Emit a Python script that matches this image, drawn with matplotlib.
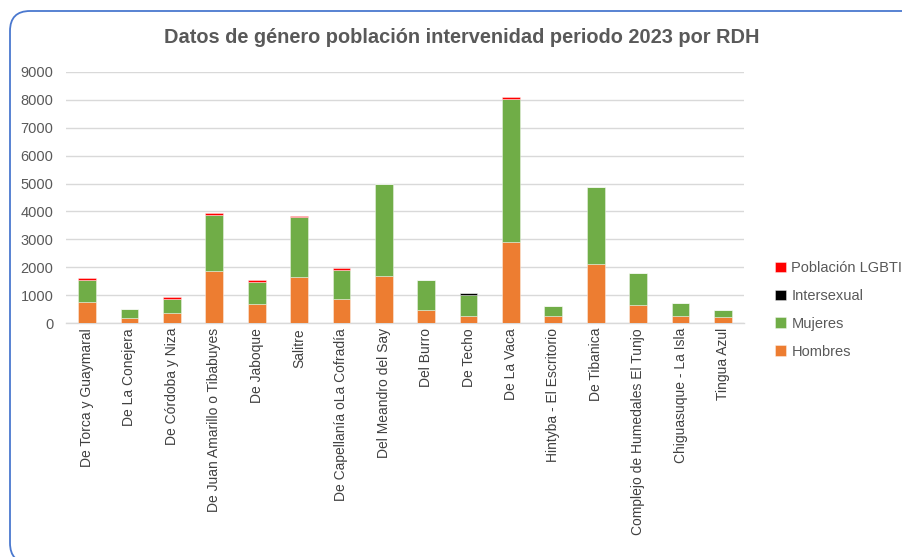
import numpy as np
import matplotlib
matplotlib.use("Agg")
import matplotlib.pyplot as plt
from matplotlib.patches import FancyBboxPatch
from matplotlib.transforms import IdentityTransform

plt.rcParams["font.family"] = ["Liberation Sans", "DejaVu Sans"]

# Data
categorias = [
    "De Torca y Guaymaral", "De La Conejera", "De Córdoba y Niza",
    "De Juan Amarillo o Tibabuyes", "De Jaboque", "Salitre",
    "De Capellanía oLa Cofradía", "Del Meandro del Say", "Del Burro",
    "De Techo", "De La Vaca", "Hintyba - El Escritorio", "De Tibanica",
    "Complejo de Humedales El Tunjo", "Chiguasuque - La Isla", "Tingua Azul",
]
hombres = [760, 180, 360, 1855, 670, 1650, 860, 1690, 480, 265, 2900, 265, 2110, 660, 265, 215]
mujeres = [800, 335, 490, 2010, 790, 2135, 1045, 3305, 1075, 730, 5135, 345, 2765, 1150, 440, 240]
intersexual = [0, 0, 0, 0, 0, 0, 0, 0, 0, 65, 0, 0, 0, 0, 0, 0]
lgbti = [45, 0, 70, 70, 70, 60, 60, 0, 0, 0, 70, 0, 0, 0, 0, 0]

series = [
    ("Hombres", hombres, "#ED7D31"),
    ("Mujeres", mujeres, "#70AD47"),
    ("Intersexual", intersexual, "#000000"),
    ("Población LGBTI", lgbti, "#FF0000"),
]

fig = plt.figure(figsize=(9.02, 5.57), dpi=100)
ax = fig.add_axes([0.073, 0.42, 0.752, 0.451])

x = np.arange(len(categorias))
bottom = np.zeros(len(categorias))
handles = []
for nombre, valores, color in series:
    valores = np.array(valores, dtype=float)
    b = ax.bar(x, valores, 0.42, bottom=bottom, color=color, label=nombre,
               edgecolor=(1, 1, 1, 0.45), linewidth=0.6, zorder=3)
    handles.append(b)
    bottom += valores

ax.set_ylim(0, 9000)
ax.set_xlim(-0.5, len(categorias) - 0.5)
ax.set_yticks(np.arange(0, 9001, 1000))
ax.yaxis.grid(True, color="#D9D9D9", linewidth=1, zorder=0)
ax.set_axisbelow(True)
for s in ["top", "right", "left"]:
    ax.spines[s].set_visible(False)
ax.spines["bottom"].set_color("#D9D9D9")
ax.spines["bottom"].set_linewidth(1)
ax.tick_params(axis="both", length=0, colors="#595959")
ax.tick_params(axis="y", pad=9, labelsize=10.5)
ax.set_xticks(x)
ax.set_xticklabels(categorias, rotation=90, color="#404040", fontsize=10)

fig.text(0.512, 0.932, "Datos de género población intervenidad periodo 2023 por RDH",
         ha="center", va="center", fontsize=14.4, fontweight="bold", color="#595959")

leg = fig.legend(handles[::-1], [s[0] for s in series][::-1],
                 loc="upper left", bbox_to_anchor=(0.845, 0.555), frameon=False,
                 fontsize=10.5, labelcolor="#595959", handlelength=0.7,
                 handleheight=0.7, handletextpad=0.4, labelspacing=0.95)

# rounded chart-area border
border = FancyBboxPatch((10, -6), 918, 552, boxstyle="round,pad=0,rounding_size=20",
                        transform=IdentityTransform(), fill=False,
                        edgecolor="#4A78CF", linewidth=1.3)
fig.patches.append(border)

fig.savefig("out.png", dpi=100)
